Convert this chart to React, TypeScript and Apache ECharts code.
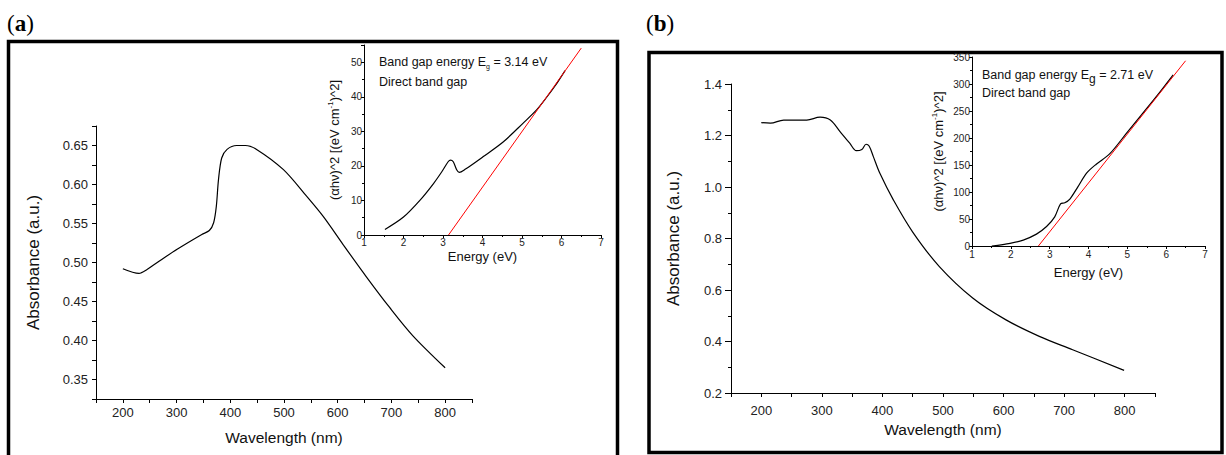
import React, { useEffect, useRef } from "react";
import * as echarts from "echarts";

// ---- Panel (a): main absorbance spectrum ----
const aWave = [200, 230, 245, 264, 301, 347, 361, 369, 374, 378, 384, 394, 412, 428, 449, 499, 542, 573, 610, 653, 697, 740, 800];
const aAbs = [0.492, 0.486, 0.491, 0.500, 0.517, 0.536, 0.541, 0.551, 0.572, 0.606, 0.634, 0.645, 0.650, 0.650, 0.645, 0.619, 0.585, 0.559, 0.523, 0.482, 0.442, 0.406, 0.365];
// ---- Panel (a): inset Tauc plot ----
const aEnergy = [1.53, 2.0, 2.42, 2.76, 2.97, 3.13, 3.19, 3.26, 3.35, 3.41, 3.56, 4.02, 4.53, 5.03, 5.37, 5.62, 5.84, 6.09];
const aTauc = [1.6, 5.2, 10.1, 14.9, 18.3, 21.2, 21.7, 21.2, 18.8, 18.1, 19.0, 22.7, 27.0, 32.4, 36.2, 39.8, 43.2, 47.6];
const aFitE = [3.14, 6.5];
const aFitV = [0, 54.1];

// ---- Panel (b): main absorbance spectrum ----
const bWave = [200, 215, 237, 275, 297, 314, 330, 346, 357, 366, 373, 378, 385, 396, 418, 450, 494, 549, 604, 659, 714, 799];
const bAbs = [1.250, 1.248, 1.260, 1.260, 1.271, 1.260, 1.215, 1.170, 1.141, 1.146, 1.166, 1.159, 1.118, 1.052, 0.950, 0.825, 0.691, 0.569, 0.484, 0.420, 0.368, 0.288];
// ---- Panel (b): inset Tauc plot ----
const bEnergy = [1.51, 1.98, 2.32, 2.66, 2.92, 3.13, 3.28, 3.39, 3.52, 3.73, 3.95, 4.2, 4.55, 4.98, 5.4, 5.75, 6.18];
const bTauc = [0, 5, 11, 22, 36, 54, 78, 80, 87, 110, 135, 151.5, 171, 209, 246, 277, 317];
const bFitE = [2.71, 6.5];
const bFitV = [0, 343];

const panelLabels = ["a", "b"];
const xName = "Wavelength (nm)";
const yName = "Absorbance (a.u.)";
const insetXName = "Energy (eV)";
const insetYName = "(αhν)^2 [(eV cm{sup|-1})^2]";
const noteA = ["Band gap energy E{sub|g} = 3.14 eV", "Direct band gap"];
const noteB = ["Band gap energy E{subb|g} = 2.71 eV", "Direct band gap"];

const FONT = "'Liberation Sans', Arial, Helvetica, sans-serif";
const SERIF = "'Liberation Serif', 'DejaVu Serif', serif";

const zip = (xs: number[], ys: number[]) => xs.map((x, i) => [x, ys[i]]);

function axisBase(fontSize: number, margin: number, tickLen: number) {
  return {
    type: "value" as const,
    axisLine: { show: true, onZero: false, lineStyle: { color: "#000", width: 1 } },
    axisTick: { show: true, inside: false, length: tickLen, lineStyle: { color: "#000", width: 1 } },
    axisLabel: { color: "#222", fontSize, fontFamily: FONT, margin },
    splitLine: { show: false },
  };
}

export default function App() {
  const ref = useRef<HTMLDivElement>(null);
  useEffect(() => {
    if (!ref.current) return;
    const chart = echarts.init(ref.current, undefined, { renderer: "svg" });

    const lineSeries = (xi: number, data: number[][], color: string, width: number, smooth: number | boolean) => ({
      type: "line" as const,
      xAxisIndex: xi,
      yAxisIndex: xi,
      data,
      showSymbol: false,
      symbol: "none",
      smooth,
      lineStyle: { color, width },
      silent: true,
    });

    const supRich = { sup: { fontSize: 8, verticalAlign: "top", lineHeight: 16, fontFamily: FONT, color: "#111" } };

    const option: any = {
      animation: false,
      backgroundColor: "#fff",
      textStyle: { fontFamily: FONT },
      grid: [
        { left: 96, top: 126, width: 376, height: 273 },
        { left: 364, top: 45, width: 237, height: 190 },
        { left: 731, top: 84, width: 424, height: 309 },
        { left: 972, top: 57, width: 233, height: 189 },
      ],
      xAxis: [
        {
          ...axisBase(13, 7, 4),
          gridIndex: 0,
          min: 150,
          max: 850,
          interval: 50,
          axisLabel: {
            ...axisBase(13, 7, 4).axisLabel,
            formatter: (v: number) => (Math.round(v) % 100 === 0 ? String(Math.round(v)) : ""),
          },
          name: xName,
          nameLocation: "middle",
          nameGap: 30,
          nameTextStyle: { fontSize: 15.5, color: "#111", fontFamily: FONT },
        },
        {
          ...axisBase(10, 2, 3),
          gridIndex: 1,
          min: 1,
          max: 7,
          interval: 1,
          minorTick: { show: true, splitNumber: 2, length: 2, lineStyle: { color: "#000" } },
          name: insetXName,
          nameLocation: "middle",
          nameGap: 15,
          nameTextStyle: { fontSize: 13, color: "#111", fontFamily: FONT },
        },
        {
          ...axisBase(13, 11, 4),
          gridIndex: 2,
          min: 150,
          max: 850,
          interval: 50,
          axisLabel: {
            ...axisBase(13, 11, 4).axisLabel,
            formatter: (v: number) => (Math.round(v) % 100 === 0 ? String(Math.round(v)) : ""),
          },
          name: xName,
          nameLocation: "middle",
          nameGap: 17,
          nameTextStyle: { fontSize: 15.5, color: "#111", fontFamily: FONT },
        },
        {
          ...axisBase(10, 3, 3),
          gridIndex: 3,
          min: 1,
          max: 7,
          interval: 1,
          minorTick: { show: true, splitNumber: 2, length: 2, lineStyle: { color: "#000" } },
          name: insetXName,
          nameLocation: "middle",
          nameGap: 20,
          nameTextStyle: { fontSize: 13, color: "#111", fontFamily: FONT },
        },
      ],
      yAxis: [
        {
          ...axisBase(13, 8, 4),
          gridIndex: 0,
          min: 0.325,
          max: 0.675,
          interval: 0.025,
          axisLabel: {
            ...axisBase(13, 8, 4).axisLabel,
            formatter: (v: number) => {
              const k = Math.round(v * 1000);
              return k % 50 === 0 && k >= 350 && k <= 650 ? (k / 1000).toFixed(2) : "";
            },
          },
          name: yName,
          nameLocation: "middle",
          nameGap: 54,
          nameRotate: 90,
          nameTextStyle: { fontSize: 17, color: "#111", fontFamily: FONT },
        },
        {
          ...axisBase(10, 2, 3),
          gridIndex: 1,
          min: 0,
          max: 55,
          interval: 10,
          minorTick: { show: true, splitNumber: 2, length: 2, lineStyle: { color: "#000" } },
          axisLabel: {
            ...axisBase(10, 2, 3).axisLabel,
            formatter: (v: number) => (Math.round(v) % 10 === 0 ? String(Math.round(v)) : ""),
          },
          name: insetYName,
          nameLocation: "middle",
          nameGap: 22,
          nameRotate: 90,
          nameTextStyle: { fontSize: 13, color: "#111", fontFamily: FONT, lineHeight: 16, rich: supRich },
        },
        {
          ...axisBase(13, 9, 6),
          gridIndex: 2,
          min: 0.2,
          max: 1.4,
          interval: 0.2,
          minorTick: { show: true, splitNumber: 2, length: 3, lineStyle: { color: "#000" } },
          axisLabel: {
            ...axisBase(13, 9, 6).axisLabel,
            formatter: (v: number) => v.toFixed(1),
          },
          name: yName,
          nameLocation: "middle",
          nameGap: 49,
          nameRotate: 90,
          nameTextStyle: { fontSize: 17, color: "#111", fontFamily: FONT },
        },
        {
          ...axisBase(10, 2, 3),
          gridIndex: 3,
          min: 0,
          max: 350,
          interval: 50,
          minorTick: { show: true, splitNumber: 2, length: 2, lineStyle: { color: "#000" } },
          name: insetYName,
          nameLocation: "middle",
          nameGap: 26,
          nameRotate: 90,
          nameTextStyle: { fontSize: 13, color: "#111", fontFamily: FONT, lineHeight: 16, rich: supRich },
        },
      ],
      series: [
        lineSeries(0, zip(aWave, aAbs), "#000", 1.2, 0.3),
        lineSeries(1, zip(aEnergy, aTauc), "#000", 1.2, 0.3),
        lineSeries(1, zip(aFitE, aFitV), "#ff0000", 1, false),
        lineSeries(2, zip(bWave, bAbs), "#000", 1.2, 0.35),
        lineSeries(3, zip(bEnergy, bTauc), "#000", 1.2, 0.3),
        lineSeries(3, zip(bFitE, bFitV), "#ff0000", 1, false),
      ],
      graphic: [
        {
          type: "rect",
          shape: { x: 8.5, y: 41.5, width: 609, height: 430 },
          style: { fill: "none", stroke: "#000", lineWidth: 3.5 },
          silent: true,
        },
        {
          type: "rect",
          shape: { x: 649, y: 52.5, width: 573, height: 400 },
          style: { fill: "none", stroke: "#000", lineWidth: 3.5 },
          silent: true,
        },
        {
          type: "text",
          x: 7,
          y: 12,
          style: {
            text: "({b|" + panelLabels[0] + "})",
            fontFamily: SERIF,
            fontSize: 23,
            fill: "#000",
            verticalAlign: "top",
            align: "left",
            rich: { b: { fontWeight: "bold", fontSize: 23, fontFamily: SERIF, fill: "#000" } },
          },
        },
        {
          type: "text",
          x: 646,
          y: 12,
          style: {
            text: "({b|" + panelLabels[1] + "})",
            fontFamily: SERIF,
            fontSize: 23,
            fill: "#000",
            verticalAlign: "top",
            align: "left",
            rich: { b: { fontWeight: "bold", fontSize: 23, fontFamily: SERIF, fill: "#000" } },
          },
        },
        {
          type: "text",
          x: 379,
          y: 54,
          style: {
            text: noteA[0],
            fontFamily: FONT,
            fontSize: 12.5,
            fill: "#111",
            lineHeight: 16,
            verticalAlign: "top",
            rich: { sub: { fontSize: 7, verticalAlign: "bottom", lineHeight: 16, fontFamily: FONT, fill: "#111" } },
          },
        },
        {
          type: "text",
          x: 379,
          y: 75,
          style: { text: noteA[1], fontFamily: FONT, fontSize: 12.5, fill: "#111", verticalAlign: "top" },
        },
        {
          type: "text",
          x: 982,
          y: 65,
          style: {
            text: noteB[0],
            fontFamily: FONT,
            fontSize: 12.5,
            fill: "#111",
            lineHeight: 18,
            verticalAlign: "top",
            rich: { subb: { fontSize: 12, verticalAlign: "bottom", lineHeight: 20, fontFamily: FONT, fill: "#111" } },
          },
        },
        {
          type: "text",
          x: 982,
          y: 86,
          style: { text: noteB[1], fontFamily: FONT, fontSize: 12.5, fill: "#111", verticalAlign: "top" },
        },
      ],
    };

    chart.setOption(option);
    return () => chart.dispose();
  }, []);

  return (
    <div
      ref={ref}
      style={{ position: "absolute", left: 0, top: 0, width: 1226, height: 455, background: "#fff" }}
    />
  );
}
